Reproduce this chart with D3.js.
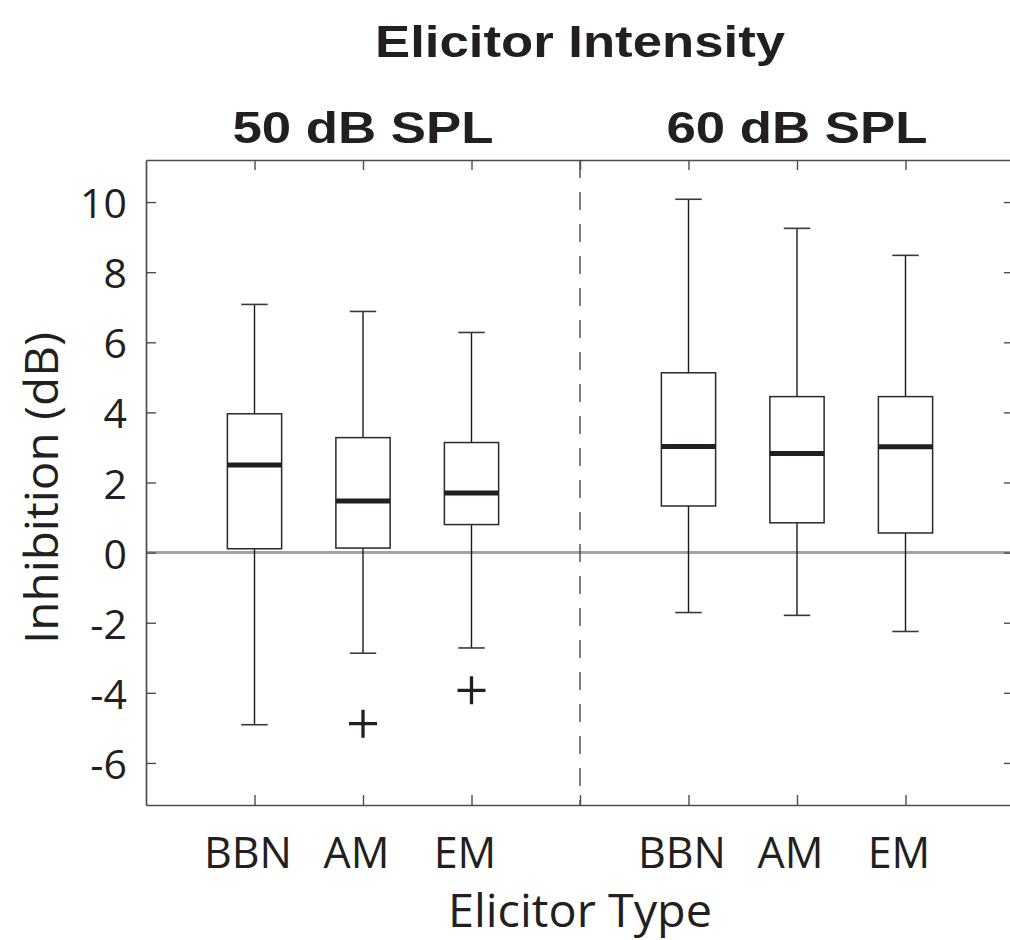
<!DOCTYPE html>
<html>
<head>
<meta charset="utf-8">
<script src="https://cdn.jsdelivr.net/npm/d3@7"></script>
<style>
  html, body { margin: 0; padding: 0; background: #fff; }
  svg { display: block; }
</style>
</head>
<body>
<div id="chart"></div>
<script>
// ---- data ----
const groups = ["50 dB SPL", "60 dB SPL"];
const types = ["BBN", "AM", "EM"];
const yTicks = [-6, -4, -2, 0, 2, 4, 6, 8, 10];
// per box, order: 50 dB (BBN, AM, EM), 60 dB (BBN, AM, EM)
const whiskerLow  = [-4.91, -2.87, -2.72, -1.71, -1.79, -2.25];
const q1          = [ 0.11,  0.13,  0.80,  1.33,  0.85,  0.56];
const medians     = [ 2.50,  1.47,  1.70,  3.03,  2.83,  3.02];
const q3          = [ 3.96,  3.28,  3.14,  5.13,  4.45,  4.45];
const whiskerHigh = [ 7.08,  6.88,  6.28, 10.08,  9.25,  8.48];
const outliers    = [[], [-4.88], [-3.93], [], [], []];

const title = "Elicitor Intensity";
const xTitle = "Elicitor Type";
const yTitle = "Inhibition (dB)";

// ---- layout ----
const W = 1010, H = 940;
const pL = 146, pR = 1014, pT = 160, pB = 805;

const svg = d3.select("#chart").append("svg").attr("width", W).attr("height", H);

const x = d3.scaleLinear().domain([0, 8]).range([pL, pR]);
const y = d3.scaleLinear().domain([-7.2, 11.2]).range([pB, pT]);

const boxes = [];
groups.forEach((g, gi) => types.forEach((t, ti) => {
  const i = gi * types.length + ti;
  boxes.push({ pos: gi * 4 + ti + 1, label: t, lo: whiskerLow[i], q1: q1[i], med: medians[i], q3: q3[i], hi: whiskerHigh[i], out: outliers[i] });
}));

const textCol = "#231f20";
const axisCol = "#4d4d4d";

// zero line
svg.append("line")
  .attr("x1", pL).attr("x2", pR)
  .attr("y1", y(0)).attr("y2", y(0))
  .attr("stroke", "#a3a3a3").attr("stroke-width", 3);

// divider
svg.append("line")
  .attr("x1", x(4)).attr("x2", x(4))
  .attr("y1", pT).attr("y2", pB)
  .attr("stroke", "#3a3a3a").attr("stroke-width", 1.3)
  .attr("stroke-dasharray", "18,14");

// axes
const tickPos = [1, 2, 3, 4, 5, 6, 7];
const catLabels = {};
boxes.forEach(b => catLabels[b.pos] = b.label);

const axBottom = d3.axisBottom(x).tickValues(tickPos).tickSize(-10).tickSizeOuter(0).tickFormat(d => catLabels[d] || "");
const axTop = d3.axisTop(x).tickValues(tickPos).tickSize(-10).tickSizeOuter(0).tickFormat("");
const axLeft = d3.axisLeft(y).tickValues(yTicks).tickSize(-10).tickSizeOuter(0).tickFormat(d => d < 0 ? "-" + Math.abs(d) : String(d));
const axRight = d3.axisRight(y).tickValues(yTicks).tickSize(-10).tickSizeOuter(0).tickFormat("");

function style(g) {
  g.select(".domain").attr("stroke", axisCol).attr("stroke-width", 1.7);
  g.selectAll(".tick line").attr("stroke", axisCol).attr("stroke-width", 1.4);
  g.selectAll(".tick text").attr("fill", textCol).attr("font-family", "'Open Sans', sans-serif");
}

const gB = svg.append("g").attr("transform", `translate(0,${pB})`).call(axBottom).call(style);
gB.selectAll(".tick text").attr("font-size", 43).attr("dy", 0).attr("y", 63).attr("dx", -7);

svg.append("g").attr("transform", `translate(0,${pT})`).call(axTop).call(style);

const gL = svg.append("g").attr("transform", `translate(${pL},0)`).call(axLeft).call(style);
gL.selectAll(".tick text").attr("font-size", 41).attr("x", -19).attr("dy", "0.38em");

svg.append("g").attr("transform", `translate(${pR},0)`).call(axRight).call(style);

// boxes
const bw = 0.25, cw = 0.122;
const gBox = svg.append("g");
boxes.forEach(b => {
  const g = gBox.append("g");
  g.append("line").attr("x1", x(b.pos)).attr("x2", x(b.pos)).attr("y1", y(b.q3)).attr("y2", y(b.hi))
    .attr("stroke", "#1a1a1a").attr("stroke-width", 1.4);
  g.append("line").attr("x1", x(b.pos)).attr("x2", x(b.pos)).attr("y1", y(b.q1)).attr("y2", y(b.lo))
    .attr("stroke", "#1a1a1a").attr("stroke-width", 1.4);
  g.append("line").attr("x1", x(b.pos - cw)).attr("x2", x(b.pos + cw)).attr("y1", y(b.hi)).attr("y2", y(b.hi))
    .attr("stroke", "#3a3a3a").attr("stroke-width", 1.6);
  g.append("line").attr("x1", x(b.pos - cw)).attr("x2", x(b.pos + cw)).attr("y1", y(b.lo)).attr("y2", y(b.lo))
    .attr("stroke", "#3a3a3a").attr("stroke-width", 1.6);
  g.append("rect").attr("x", x(b.pos - bw)).attr("width", x(b.pos + bw) - x(b.pos - bw))
    .attr("y", y(b.q3)).attr("height", y(b.q1) - y(b.q3))
    .attr("fill", "none").attr("stroke", "#2a2a2a").attr("stroke-width", 1.5);
  g.append("line").attr("x1", x(b.pos - bw)).attr("x2", x(b.pos + bw)).attr("y1", y(b.med)).attr("y2", y(b.med))
    .attr("stroke", textCol).attr("stroke-width", 5);
  b.out.forEach(v => {
    g.append("path")
      .attr("d", `M${x(b.pos) - 14},${y(v)}H${x(b.pos) + 14}M${x(b.pos)},${y(v) - 14}V${y(v) + 14}`)
      .attr("stroke", textCol).attr("stroke-width", 3.3).attr("fill", "none");
  });
});

// titles
svg.append("text").text(title)
  .attr("x", x(4)).attr("y", 57).attr("text-anchor", "middle")
  .attr("font-family", "'Liberation Sans', Arial, sans-serif").attr("font-weight", "bold")
  .attr("font-size", 45).attr("fill", textCol)
  .attr("textLength", 410).attr("lengthAdjust", "spacingAndGlyphs");

groups.forEach((g, gi) => {
  svg.append("text").text(g)
    .attr("x", x(gi * 4 + 2)).attr("y", 143).attr("text-anchor", "middle")
    .attr("font-family", "'Liberation Sans', Arial, sans-serif").attr("font-weight", "bold")
    .attr("font-size", 45).attr("fill", textCol)
    .attr("textLength", 261).attr("lengthAdjust", "spacingAndGlyphs");
});

svg.append("text").text(xTitle)
  .attr("x", 580).attr("y", 927).attr("text-anchor", "middle")
  .attr("font-family", "'Open Sans', sans-serif").attr("font-size", 46).attr("fill", textCol)
  .attr("textLength", 264).attr("lengthAdjust", "spacingAndGlyphs");

svg.append("text").text(yTitle)
  .attr("transform", `translate(58,488) rotate(-90)`)
  .attr("text-anchor", "middle")
  .attr("font-family", "'Open Sans', sans-serif").attr("font-size", 46).attr("fill", textCol)
  .attr("textLength", 312).attr("lengthAdjust", "spacingAndGlyphs");
</script>
</body>
</html>
